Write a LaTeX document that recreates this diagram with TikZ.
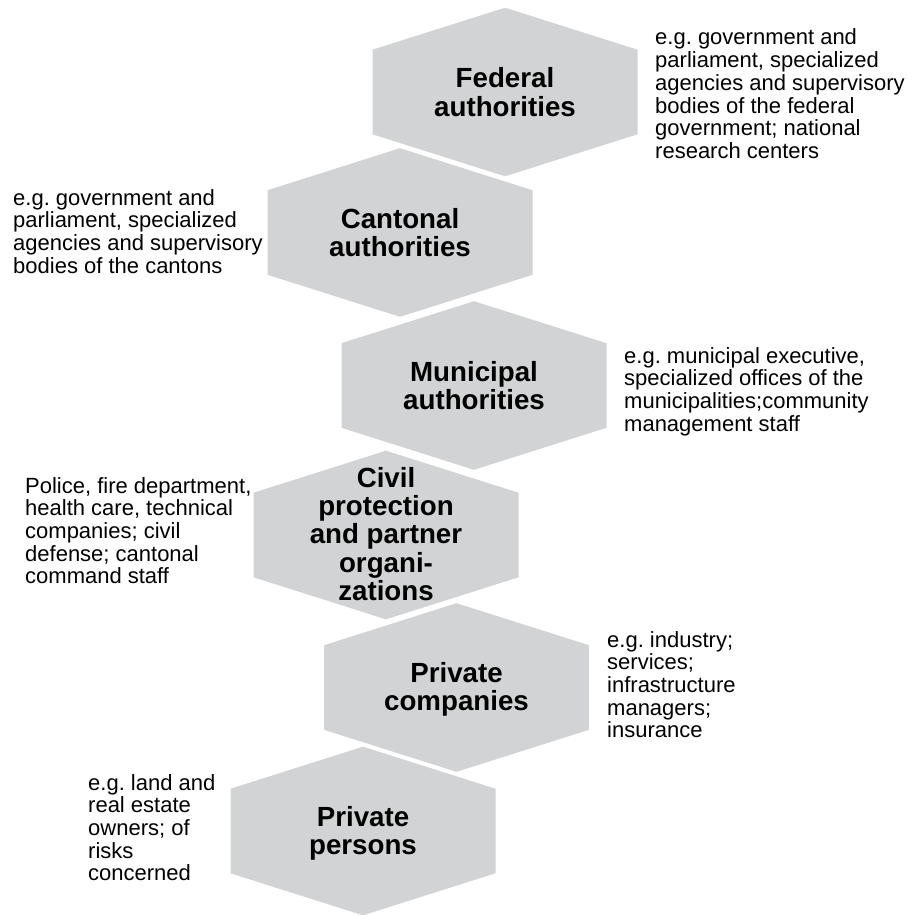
\documentclass[tikz,border=0pt]{standalone}
\usepackage{fontspec}
\setmainfont{Liberation Sans}
\frenchspacing
\definecolor{hexgray}{RGB}{209,211,212}
\newcommand{\HexAt}[1]{\path[hexbox] (#1) ++(0,-86) -- ++(134,42.5) -- ++(0,87) -- ++(-134,42.5) -- ++(-134,-42.5) -- ++(0,-87) -- cycle;}
\begin{document}
\begin{tikzpicture}[x=1pt,y=-1pt,
  hexbox/.style={fill=hexgray, draw=white, line width=3pt, line join=miter},
  hexlabel/.style={anchor=base, inner sep=0pt, font=\fontsize{27.7}{28}\selectfont\bfseries},
  sidenote/.style={anchor=base west, inner sep=0pt, font=\fontsize{22}{22.6}\selectfont\frenchspacing}]
\useasboundingbox (0,0) rectangle (914,915);
\coordinate (c1) at (505,92);
\coordinate (c2) at (400,232.5);
\coordinate (c3) at (474,385.5);
\coordinate (c4) at (386,535);
\coordinate (c5) at (456.5,687.5);
\coordinate (c6) at (363,831);
% lower hexagons first, upper ones overlap them
\HexAt{c6}
\HexAt{c5}
\HexAt{c4}
\HexAt{c3}
\HexAt{c2}
\HexAt{c1}
% hexagon labels
\node[hexlabel] (federal) at (505,88) {\begin{tabular}[t]{@{}c@{}}Federal\\authorities\end{tabular}};
\node[hexlabel] (cantonal) at (400,228.3) {\begin{tabular}[t]{@{}c@{}}Cantonal\\authorities\end{tabular}};
\node[hexlabel] (municipal) at (474,381.5) {\begin{tabular}[t]{@{}c@{}}Municipal\\authorities\end{tabular}};
\node[hexlabel] (civil) at (386,487) {\begin{tabular}[t]{@{}c@{}}Civil\\protection\\and partner\\organi-\\zations\end{tabular}};
\node[hexlabel] (companies) at (456.5,682) {\begin{tabular}[t]{@{}c@{}}Private\\companies\end{tabular}};
\node[hexlabel] (persons) at (363,826) {\begin{tabular}[t]{@{}c@{}}Private\\persons\end{tabular}};
% side notes
\node[sidenote] (nfederal) at (655,45) {\begin{tabular}[t]{@{}l@{}}e.g.\ government and\\parliament, specialized\\agencies and supervisory\\bodies of the federal\\government; national\\research centers\end{tabular}};
\node[sidenote] (ncantonal) at (13,205) {\begin{tabular}[t]{@{}l@{}}e.g.\ government and\\parliament, specialized\\agencies and supervisory\\bodies of the cantons\end{tabular}};
\node[sidenote] (nmunicipal) at (624,363) {\begin{tabular}[t]{@{}l@{}}e.g.\ municipal executive,\\specialized offices of the\\municipalities;community\\management staff\end{tabular}};
\node[sidenote] (ncivil) at (25,493) {\begin{tabular}[t]{@{}l@{}}Police, fire department,\\health care, technical\\companies; civil\\defense; cantonal\\command staff\end{tabular}};
\node[sidenote] (ncompanies) at (607,647) {\begin{tabular}[t]{@{}l@{}}e.g.\ industry;\\services;\\infrastructure\\managers;\\insurance\end{tabular}};
\node[sidenote] (npersons) at (88,790) {\begin{tabular}[t]{@{}l@{}}e.g.\ land and\\real estate\\owners; of\\risks\\concerned\end{tabular}};
\end{tikzpicture}
\end{document}
